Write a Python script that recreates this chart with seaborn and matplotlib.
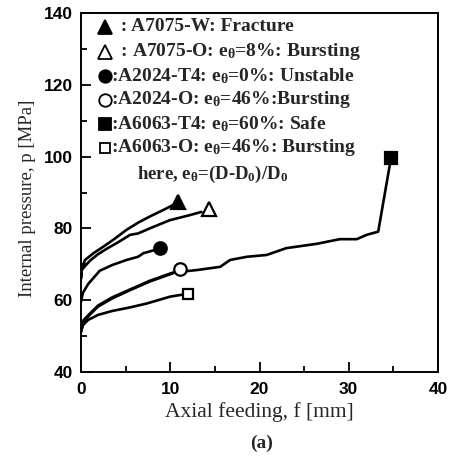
import numpy as np
import pandas as pd
import matplotlib
matplotlib.use("Agg")
import matplotlib.pyplot as plt
import seaborn as sns

# ---------------- data ----------------
w7075_f = [0, 0.1, 0.45, 1.4, 2.5, 3.6, 5.1, 6.4, 7.7, 9.2, 10.3]
w7075_p = [66, 68.9, 71.2, 73.1, 74.9, 76.8, 79.6, 81.6, 83.3, 85.1, 86.5]
w7075_end = (10.9, 87.3)

o7075_f = [0, 0.1, 1.0, 1.9, 3.0, 4.2, 5.5, 6.4, 7.7, 9.97, 12.2, 13.5]
o7075_p = [66, 68.5, 71.0, 72.8, 74.5, 76.2, 78.2, 78.6, 80.0, 82.3, 83.7, 84.6]
o7075_end = (14.3, 85.3)

t2024_f = [0, 0.2, 0.8, 2.1, 3.5, 5.1, 6.4, 7.0, 8.3]
t2024_p = [59.5, 62, 64.5, 68.2, 69.8, 71.2, 72.1, 73.1, 74.0]
t2024_end = (8.85, 74.6)

o2024_f = [0, 0.3, 1.0, 1.9, 3.5, 5.5, 7.7, 10.3]
o2024_p = [51.5, 54, 56, 58.2, 60.5, 62.8, 65.2, 67.5]
o2024_end = (11.1, 68.6)

t6063_f = [0, 0.3, 1.0, 1.9, 3.5, 5.5, 7.7, 10.3, 13.0, 15.6, 16.7, 18.6,
           20.8, 23.0, 26.4, 29.0, 30.9, 32.0, 33.3, 34.6]
t6063_p = [51.5, 54.5, 56.3, 58.5, 60.8, 63, 65.4, 67.7, 68.4, 69.3, 71.2, 72.1,
           72.6, 74.5, 75.7, 77.0, 77.0, 78.2, 79.1, 97.7]
t6063_end = (34.75, 99.6)

o6063_f = [0, 0.2, 0.8, 1.9, 3.5, 5.5, 7.4, 10.0, 11.5]
o6063_p = [51, 53, 54.5, 55.9, 57, 58.0, 59.1, 61.0, 61.6]
o6063_end = (12.0, 61.8)

series_names = ["A7075-W", "A7075-O", "A2024-T4", "A2024-O", "A6063-T4", "A6063-O"]
legend_texts = [
    r"  : A7075-W: Fracture",
    r"  : A7075-O: e$_\theta$=8%: Bursting",
    r":A2024-T4: e$_\theta$=0%: Unstable",
    r":A2024-O: e$_\theta$=46%:Bursting",
    r":A6063-T4: e$_\theta$=60%: Safe",
    r":A6063-O: e$_\theta$=46%: Bursting",
]
note_text = r"here, e$_\theta$=(D-D$_0$)/D$_0$"
x_ticks = [0, 10, 20, 30, 40]
y_ticks = [40, 60, 80, 100, 120, 140]

# ---------------- style ----------------
sns.set_style("ticks")
plt.rcParams["font.family"] = ["Liberation Serif", "DejaVu Serif"]
plt.rcParams["mathtext.fontset"] = "custom"
plt.rcParams["mathtext.rm"] = "Liberation Serif:bold"
plt.rcParams["mathtext.it"] = "Liberation Serif:bold"
plt.rcParams["mathtext.bf"] = "Liberation Serif:bold"

fig = plt.figure(figsize=(4.53, 4.59), dpi=100)
ax = fig.add_axes([81 / 453, 1 - 372 / 459, (438 - 81) / 453, (372 - 13) / 459])

curves = [
    (w7075_f, w7075_p), (o7075_f, o7075_p), (t2024_f, t2024_p),
    (o2024_f, o2024_p), (t6063_f, t6063_p), (o6063_f, o6063_p),
]
rows = []
for name, (f, p) in zip(series_names, curves):
    for fi, pi in zip(f, p):
        rows.append({"series": name, "f": fi, "p": pi})
df = pd.DataFrame(rows)

sns.lineplot(data=df, x="f", y="p", units="series", estimator=None, sort=False,
             color="black", linewidth=1.9, ax=ax, legend=False)

ends = [w7075_end, o7075_end, t2024_end, o2024_end, t6063_end, o6063_end]
markers = ["^", "^", "o", "o", "s", "s"]
fills = ["black", "white", "black", "white", "black", "white"]
msizes = [9.5, 9.5, 9, 9, 8.5, 7.5]
for (ex, ey), m, fc, ms in zip(ends, markers, fills, msizes):
    ax.plot([ex], [ey], marker=m, ms=ms, mfc=fc, mec="black", mew=1.6,
            linestyle="none", zorder=5)

# legend-like annotation block
row_y = [136.2, 129.2, 122.5, 115.8, 109.1, 102.4]
for y, m, fc, ms, txt in zip(row_y, markers, fills, msizes, legend_texts):
    ax.plot([2.7], [y], marker=m, ms=ms, mfc=fc, mec="black", mew=1.3,
            linestyle="none", zorder=5)
    ax.text(3.4, y, txt, fontsize=14, fontweight="bold", va="center", ha="left")
ax.text(6.3, 94.9, note_text, fontsize=13.5, fontweight="bold", va="center", ha="left")

ax.set_xlim(0, 40)
ax.set_ylim(40, 140)
ax.set_xticks(x_ticks)
ax.set_yticks(y_ticks)
ax.set_xticks([5, 15, 25, 35], minor=True)
ax.set_yticks([50, 70, 90, 110, 130], minor=True)
ax.tick_params(which="major", direction="in", length=7, width=1.3, colors="black")
ax.tick_params(which="minor", direction="in", length=4.5, width=1.3, colors="black")
ax.tick_params(axis="x", pad=7)
ax.tick_params(axis="y", pad=6)
for lab in ax.get_xticklabels() + ax.get_yticklabels():
    lab.set_fontfamily("Liberation Sans")
    lab.set_fontweight("bold")
    lab.set_fontsize(12.5)
for s in ax.spines.values():
    s.set_visible(True)
    s.set_linewidth(1.4)
    s.set_color("black")

ax.set_xlabel("Axial feeding, f [mm]", fontsize=15.5, labelpad=4)
ax.set_ylabel("Internal pressure, p [MPa]", fontsize=13.5, labelpad=6)
ax.yaxis.set_label_coords(-0.127, 0.485)
fig.text(0.5 * (81 + 438) / 453 + 0.005, 1 - 443 / 459, "(a)", fontsize=14,
         fontweight="bold", ha="center", va="center")

fig.savefig("out.png", dpi=100)
